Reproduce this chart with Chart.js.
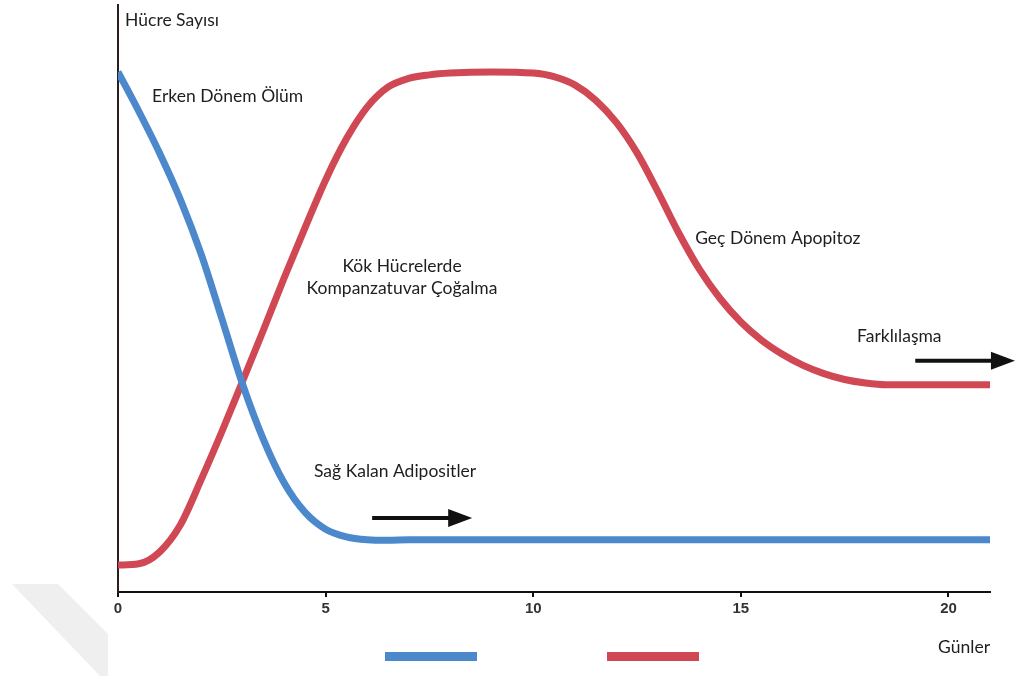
<!DOCTYPE html>
<html>
<head>
<meta charset="utf-8">
<title>Hücre Sayısı - Günler</title>
<script src="https://cdn.jsdelivr.net/npm/chart.js@4.4.0/dist/chart.umd.min.js"></script>
<style>
    html, body { margin: 0; padding: 0; background: #fff; }
    #wrap { width: 1024px; height: 678px; }
</style>
</head>
<body>
<div id="wrap"><canvas id="chart" width="1024" height="678"></canvas></div>
<script>
// x axis ticks (days)
const xTicks = [0, 5, 10, 15, 20];

// blue: early death of adipocytes
const blueDays   = [0, 0.5, 1, 1.5, 2, 2.5, 3, 3.5, 4, 4.5, 5, 5.5, 6, 6.5, 7, 8, 10, 15, 21];
const blueValues = [88.6, 81.9, 74.8, 66.9, 57.6, 46.6, 35.4, 26.0, 18.6, 13.6, 10.7, 9.4, 8.9, 8.8, 8.9, 8.9, 8.9, 8.9, 8.9];

// red: stem cell proliferation, then late apoptosis
const redDays   = [0, 0.5, 1, 1.5, 2, 2.5, 3, 3.5, 4, 4.5, 5, 5.5, 6, 6.5, 7, 7.5, 8, 9, 10, 10.5, 11, 11.5, 12, 12.5, 13, 13.5, 14, 14.5, 15, 15.5, 16, 16.5, 17, 17.5, 18, 18.5, 19, 21];
const redValues = [4.6, 4.8, 6.8, 11.4, 19.1, 27.3, 35.9, 44.6, 53.5, 62.0, 70.2, 77.2, 82.6, 86.0, 87.5, 88.1, 88.4, 88.6, 88.4, 87.8, 86.4, 83.8, 80.0, 74.8, 68.2, 61.2, 55.0, 50.0, 46.0, 42.9, 40.5, 38.6, 37.2, 36.2, 35.6, 35.3, 35.3, 35.3];

// annotation texts, anchored in data units (day, value)
const noteTexts  = ['Hücre Sayısı', 'Erken Dönem Ölüm', 'Kök Hücrelerde', 'Kompanzatuvar Çoğalma', 'Geç Dönem Apopitoz', 'Farklılaşma', 'Sağ Kalan Adipositler'];
const noteDays   = [0.17, 0.82, 6.84, 6.84, 13.9, 17.8, 4.72];
const noteValues = [97.4, 84.5, 55.5, 51.8, 60.3, 43.6, 20.6];
const noteAlign  = ['left', 'left', 'center', 'center', 'left', 'left', 'left'];

// arrows: start day, end day, value
const arrowFrom  = [6.12, 19.2];
const arrowTo    = [8.53, 21.6];
const arrowValue = [12.6, 39.4];

const BLUE = 'rgb(76,136,204)';
const RED = 'rgb(208,72,84)';

const toPoints = (xs, ys) => xs.map((x, i) => ({ x: x, y: ys[i] }));

// faint watermark corner + annotations + bare colour legend
const decorPlugin = {
    id: 'decor',
    beforeDraw(chart) {
        const ctx = chart.ctx;
        ctx.save();
        ctx.fillStyle = '#fff';
        ctx.fillRect(0, 0, chart.width, chart.height);
        ctx.fillStyle = '#efefef';
        ctx.beginPath();
        ctx.moveTo(12, 584);
        ctx.lineTo(58, 584);
        ctx.lineTo(108, 634);
        ctx.lineTo(108, 676);
        ctx.lineTo(100, 676);
        ctx.closePath();
        ctx.fill();
        ctx.restore();
    },
    afterDatasetsDraw(chart) {
        const ctx = chart.ctx;
        const xs = chart.scales.x, ys = chart.scales.y;
        ctx.save();
        ctx.fillStyle = '#1e1e1e';
        ctx.font = '17.5px Lato';
        ctx.textBaseline = 'middle';
        noteTexts.forEach((t, i) => {
            ctx.textAlign = noteAlign[i];
            ctx.fillText(t, xs.getPixelForValue(noteDays[i]), ys.getPixelForValue(noteValues[i]));
        });

        // arrows
        ctx.strokeStyle = '#111';
        ctx.fillStyle = '#111';
        ctx.lineWidth = 4;
        arrowFrom.forEach((d, i) => {
            const x0 = xs.getPixelForValue(d);
            const x1 = xs.getPixelForValue(arrowTo[i]);
            const y = ys.getPixelForValue(arrowValue[i]);
            ctx.beginPath();
            ctx.moveTo(x0, y);
            ctx.lineTo(x1 - 18, y);
            ctx.stroke();
            ctx.beginPath();
            ctx.moveTo(x1, y);
            ctx.lineTo(x1 - 24, y - 9);
            ctx.lineTo(x1 - 24, y + 9);
            ctx.closePath();
            ctx.fill();
        });

        // legend swatches (no labels in the original)
        const area = chart.chartArea;
        const sw = 92, gap = 130;
        const cx = area.left + 424;
        chart.data.datasets.forEach((ds, i) => {
            ctx.fillStyle = ds.borderColor;
            const x = cx - (sw * 2 + gap) / 2 + i * (sw + gap);
            ctx.fillRect(x, 652, sw, 9);
        });
        ctx.restore();
    }
};

new Chart(document.getElementById('chart'), {
    type: 'line',
    data: {
        datasets: [
            { label: 'Adipositler', data: toPoints(blueDays, blueValues), borderColor: BLUE },
            { label: 'Kök Hücreler', data: toPoints(redDays, redValues), borderColor: RED }
        ]
    },
    options: {
        responsive: false,
        animation: false,
        layout: { padding: { left: 118, right: 34, top: 5, bottom: 20 } },
        plugins: {
            legend: { display: false },
            tooltip: { enabled: false }
        },
        elements: {
            point: { radius: 0 },
            line: { borderWidth: 7, cubicInterpolationMode: 'monotone', fill: false }
        },
        scales: {
            x: {
                type: 'linear',
                min: 0,
                max: 21,
                afterBuildTicks: s => { s.ticks = xTicks.map(v => ({ value: v })); },
                grid: { display: true, drawOnChartArea: false, drawTicks: true, tickLength: 5, color: '#111', lineWidth: 2 },
                border: { display: true, color: '#111', width: 2 },
                ticks: { font: { family: 'Liberation Sans', size: 15, weight: 'bold' }, color: '#333', padding: 3, maxRotation: 0 },
                title: { display: true, text: 'Günler', align: 'end', color: '#1e1e1e', font: { family: 'Lato', size: 17.5 }, padding: { top: 16, bottom: 0 } }
            },
            y: {
                min: 0,
                max: 100,
                afterFit: s => { s.width = 0; },
                ticks: { display: false },
                grid: { display: false },
                border: { display: true, color: '#2a1f1a', width: 2 }
            }
        }
    },
    plugins: [decorPlugin]
});
</script>
</body>
</html>
